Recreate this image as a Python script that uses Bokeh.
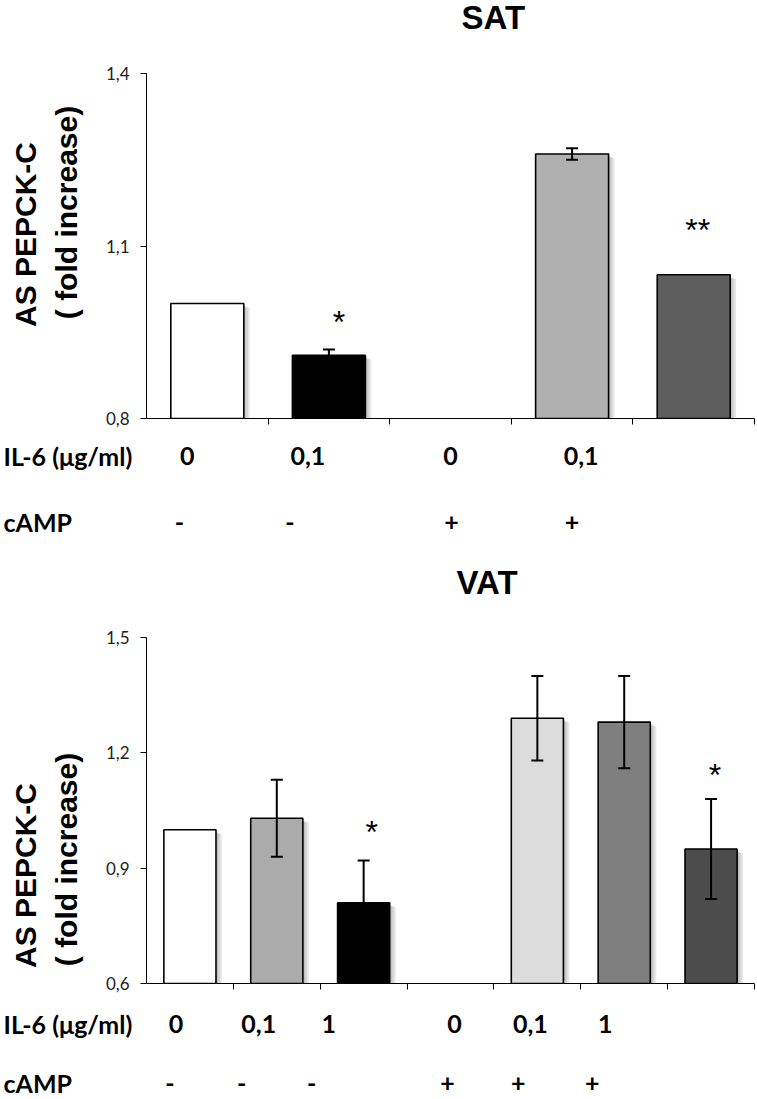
import math
from bokeh.plotting import figure
from bokeh.models import ColumnDataSource, Range1d, FixedTicker, Whisker, TeeHead
from bokeh.layouts import column, row
from bokeh.transform import dodge
from bokeh.core.properties import value
from bokeh.embed import file_html
from bokeh.resources import INLINE

# ---------------- data ----------------
# SAT panel (5 slots, slot 2 empty)
sat_slots = 5
sat_x = [0, 1, 3, 4]
sat_vals = [1.00, 0.91, 1.26, 1.05]
sat_err = [0.0, 0.01, 0.01, 0.0]
sat_colors = ["#ffffff", "#000000", "#b0b0b0", "#5e5e5e"]
sat_sig = ["", "*", "", "**"]
sat_label_x = [0, 1, 2, 3]
sat_il6 = ["0", "0,1", "0", "0,1"]
sat_camp = ["-", "-", "+", "+"]
sat_ticks = [0.8, 1.1, 1.4]
sat_tick_labels = ["0,8", "1,1", "1,4"]

# VAT panel (7 slots, slot 3 empty)
vat_slots = 7
vat_x = [0, 1, 2, 4, 5, 6]
vat_vals = [1.00, 1.03, 0.81, 1.29, 1.28, 0.95]
vat_err = [0.0, 0.10, 0.11, 0.11, 0.12, 0.13]
vat_colors = ["#ffffff", "#ababab", "#000000", "#dcdcdc", "#7f7f7f", "#4c4c4c"]
vat_sig = ["", "", "*", "", "", "*"]
vat_label_x = [0, 1, 2, 3, 4, 5]
vat_il6 = ["0", "0,1", "1", "0", "0,1", "1"]
vat_camp = ["-", "-", "-", "+", "+", "+"]
vat_ticks = [0.6, 0.9, 1.2, 1.5]
vat_tick_labels = ["0,6", "0,9", "1,2", "1,5"]

row_header_il6 = "IL-6 (\u03bcg/ml)"
row_header_camp = "cAMP"
y_label_1 = "AS PEPCK-C"
y_label_2 = "( fold increase)"

# ---------------- layout constants (page pixels) ----------------
PAGE_W = 757
STRIP_W = 90
CHART_W = PAGE_W - STRIP_W
FRAME_LEFT = 146
RIGHT = 3
FRAME_W = PAGE_W - FRAME_LEFT - RIGHT
LBL_FONT = value("Lato")
AX_FONT = value("Liberation Sans")


def chart(title, title_left, title_mid, n_slots, xs, vals, errs, colors, sig,
          sig_dx, sig_dy, ticks, tick_labels, height, frame_top, bottom_border):
    """frame spans from figure top to height-bottom_border; the axis range
    occupies the part below frame_top."""
    y0, y1 = ticks[0], ticks[-1]
    frame_h = height - bottom_border
    data_h = frame_h - frame_top
    pyu = (y1 - y0) / data_h
    pxu = FRAME_W / n_slots
    p = figure(width=CHART_W, height=height, x_range=Range1d(-0.5, n_slots - 0.5),
               y_range=Range1d(y0, y1 + frame_top * pyu), toolbar_location=None,
               output_backend="svg", min_border_left=FRAME_LEFT - STRIP_W,
               min_border_right=RIGHT, min_border_top=0, min_border_bottom=bottom_border,
               outline_line_color=None, background_fill_color="white", frame_align=False)
    p.grid.visible = False

    src = ColumnDataSource(dict(x=xs, top=vals, color=colors))
    # soft drop shadow on the right side
    for k in (2, 4, 6):
        p.vbar(x=dodge("x", k / pxu, range=p.x_range), top=dodge("top", -(k / 2 + 1) * pyu),
               bottom=y0, width=0.6, fill_color="#000000", fill_alpha=0.09,
               line_color=None, source=src)
    p.vbar(x="x", top="top", bottom=y0, width=0.6, fill_color="color",
           line_color="black", line_width=1.6, source=src)

    ex = [x for x, e in zip(xs, errs) if e > 0]
    eu = [v + e for v, e in zip(vals, errs) if e > 0]
    el = [v - e for v, e in zip(vals, errs) if e > 0]
    esrc = ColumnDataSource(dict(x=ex, upper=eu, lower=el))
    w = Whisker(base="x", upper="upper", lower="lower", source=esrc, level="overlay",
                line_color="black", line_width=2,
                upper_head=TeeHead(size=12, line_width=2, line_color="black"),
                lower_head=TeeHead(size=12, line_width=2, line_color="black"))
    p.add_layout(w)

    sx = [x for x, s in zip(xs, sig) if s]
    sy = [v + e for v, e, s in zip(vals, errs, sig) if s]
    st = [s for s in sig if s]
    ssrc = ColumnDataSource(dict(x=sx, y=sy, t=st, dx=sig_dx, dy=sig_dy))
    p.text(x="x", y="y", text="t", x_offset="dx", y_offset="dy", source=ssrc,
           text_font=AX_FONT, text_font_size="32px",
           text_align="center", text_baseline="alphabetic", text_color="black")

    # panel title, placed in page pixels above the axis range
    tx = -0.5 + (title_left - FRAME_LEFT) / pxu
    ty = y1 + (frame_top - title_mid) * pyu
    p.text(x=[tx], y=[ty], text=[title], text_font=AX_FONT, text_font_size="33px",
           text_font_style="bold", text_align="left", text_baseline="middle",
           text_color="black")

    # x axis: only boundary ticks
    xa = p.xaxis[0]
    xa.ticker = FixedTicker(ticks=[], minor_ticks=[i + 0.5 for i in range(n_slots)])
    xa.axis_line_color = "black"
    xa.minor_tick_line_color = "black"
    xa.minor_tick_out = 6
    xa.minor_tick_in = 0
    xa.major_tick_line_color = None
    xa.major_label_standoff = 0

    # y axis
    ya = p.yaxis[0]
    ya.bounds = (y0, y1)
    ya.ticker = FixedTicker(ticks=ticks)
    ya.major_label_overrides = {t: l for t, l in zip(ticks, tick_labels)}
    ya.major_label_text_font = "Lato"
    ya.major_label_text_font_size = "17px"
    ya.major_label_text_color = "#222222"
    ya.major_label_standoff = 11
    ya.major_tick_out = 6
    ya.major_tick_in = 0
    ya.minor_tick_line_color = None
    ya.axis_line_color = "black"
    ya.major_tick_line_color = "black"
    return p


def strip(height, y_line1, y_line2):
    """rotated y-axis title, two lines; y values are page pixels from strip top"""
    p = figure(width=STRIP_W, height=height, x_range=Range1d(0, STRIP_W),
               y_range=Range1d(0, height), x_axis_type=None, y_axis_type=None,
               toolbar_location=None, output_backend="svg", min_border=0,
               outline_line_color=None, frame_align=False)
    p.grid.visible = False
    src = ColumnDataSource(dict(x=[25, 66], y=[height - y_line1, height - y_line2],
                                t=[y_label_1, y_label_2]))
    p.text(x="x", y="y", text="t", angle=math.pi / 2, source=src, text_font=AX_FONT,
           text_font_size="30px", text_font_style="bold", text_align="center",
           text_baseline="middle", text_color="black")
    return p


def label_fig(height, n_slots, cats, il6, camp, il6_dx, camp_dx, y_il6, y_camp):
    pxu = FRAME_W / n_slots
    xs = -0.5 - FRAME_LEFT / pxu
    xe = n_slots - 0.5 + RIGHT / pxu
    p = figure(width=PAGE_W, height=height, x_range=Range1d(xs, xe),
               y_range=Range1d(height, 0), x_axis_type=None, y_axis_type=None,
               toolbar_location=None, output_backend="svg", min_border=0,
               outline_line_color=None, frame_align=False)
    p.grid.visible = False
    src = ColumnDataSource(dict(
        x=list(cats) + list(cats),
        y=[y_il6] * len(cats) + [y_camp] * len(cats),
        t=list(il6) + list(camp),
        dx=list(il6_dx) + list(camp_dx)))
    p.text(x="x", y="y", text="t", x_offset="dx", source=src, text_font=LBL_FONT,
           text_font_size="25px", text_font_style="bold", text_align="center",
           text_baseline="middle", text_color="black")
    hx = xs + 3 / pxu
    hsrc = ColumnDataSource(dict(x=[hx, hx], y=[y_il6, y_camp],
                                 t=[row_header_il6, row_header_camp]))
    p.text(x="x", y="y", text="t", source=hsrc, text_font=LBL_FONT,
           text_font_size="25px", text_font_style="bold", text_align="left",
           text_baseline="middle", text_color="black")
    return p


# SAT block: page y 0..430, labels 430..546
c1 = chart("SAT", 461, 17, sat_slots, sat_x, sat_vals, sat_err, sat_colors, sat_sig,
           [10, 4], [-28, -45], sat_ticks, sat_tick_labels, 430, 73, 12)
s1 = strip(430, 234, 212)
l1 = label_fig(116, sat_slots, sat_label_x, sat_il6, sat_camp,
               [-20, -21, 0, 9], [-28, -39, 1, 0], 455 - 430, 521 - 430)
# VAT block: page y 546..995, labels 995..1097
c2 = chart("VAT", 456, 582 - 546, vat_slots, vat_x, vat_vals, vat_err, vat_colors, vat_sig,
           [8, 4], [-28, -24], vat_ticks, vat_tick_labels, 449, 637 - 546, 12)
s2 = strip(449, 875 - 546, 859 - 546)
l2 = label_fig(102, vat_slots, vat_label_x, vat_il6, vat_camp,
               [-14, -18, -35, 4, -7, -19], [-20, -35, -52, -3, -19, -32],
               1023 - 995, 1082 - 995)

layout = column(row(s1, c1, spacing=0), l1, row(s2, c2, spacing=0), l2, spacing=0)
open("out.html", "w").write(file_html(layout, INLINE))
